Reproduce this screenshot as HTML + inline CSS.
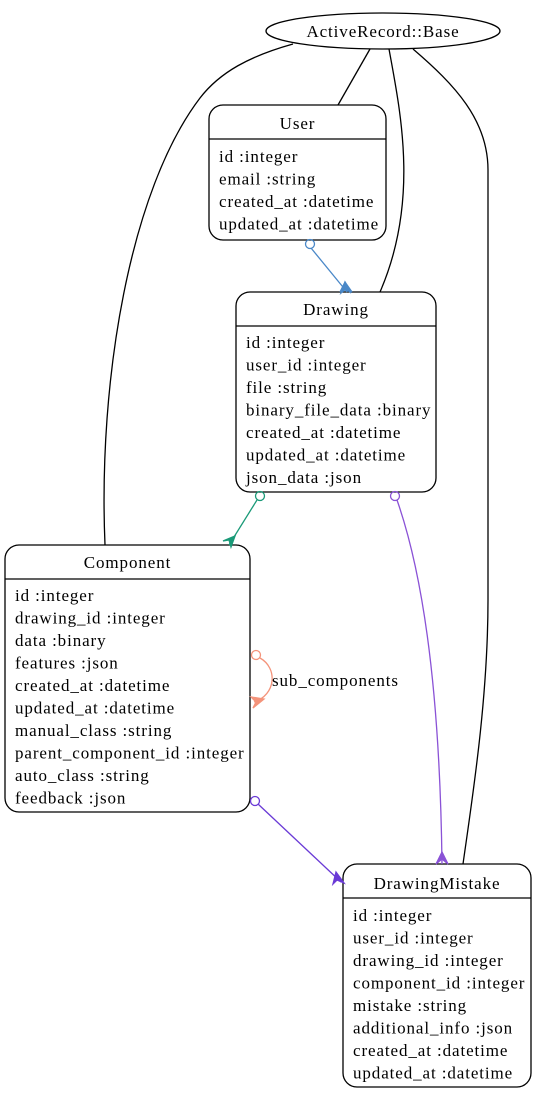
<!DOCTYPE html>
<html><head><meta charset="utf-8"><style>
html,body{margin:0;padding:0;background:#fff;}
svg{display:block;}
text{font-family:"Liberation Serif",serif;font-size:17px;letter-spacing:0.9px;fill:#000;}
</style></head><body>
<svg width="544" height="1102" viewBox="0 0 544 1102" xmlns="http://www.w3.org/2000/svg">
<g fill="none" stroke="#000" stroke-width="1.3">
<ellipse cx="383" cy="31" rx="117" ry="18" fill="#fff"/>
<path d="M370,49 L338,105"/>
<path d="M389,49 C400,110 420,200 380,292"/>
<path d="M293,44 C250,56 220,72 200,98 C130,190 98,380 105,545"/>
<path d="M413,49 C455,85 488,120 488,170 L488,600 C488,700 472,800 463,864"/>
<rect x="209" y="105" width="177" height="135" rx="14"/>
<line x1="209" y1="139" x2="386" y2="139"/>
<rect x="236" y="292" width="200" height="200" rx="14"/>
<line x1="236" y1="326" x2="436" y2="326"/>
<rect x="5" y="545" width="245" height="267" rx="14"/>
<line x1="5" y1="579" x2="250" y2="579"/>
<rect x="343" y="864" width="188" height="223" rx="14"/>
<line x1="343" y1="898" x2="531" y2="898"/>
</g>
<g stroke="#4a88c8" fill="none" stroke-width="1.3">
<circle cx="310" cy="244" r="4.5"/>
<path d="M311,248 L347,292"/>
<path d="M340,292 L345,282 L352,292 M347,292 L345,282"/>
<polygon points="345,282 341,293 346,289 351,293" fill="#4a88c8"/>
</g>
<g stroke="#1a9a78" fill="none" stroke-width="1.3">
<circle cx="260" cy="496" r="4.5"/>
<path d="M257,500 L229,545"/>
<polygon points="235,536 223,541 229,540 231,547" fill="#1a9a78"/>
</g>
<g stroke="#8a52d6" fill="none" stroke-width="1.3">
<circle cx="395" cy="496" r="4.5"/>
<path d="M397,500 C425,580 440,700 442,864"/>
<polygon points="442,852 436,864 442,859 448,864" fill="#8a52d6"/>
</g>
<g stroke="#6a3ad6" fill="none" stroke-width="1.3">
<circle cx="255" cy="801" r="4.5"/>
<path d="M258,804 L341,882"/>
<polygon points="336,872 333,884 337,880 344,883" fill="#6a3ad6"/>
</g>
<g stroke="#f4937a" fill="none" stroke-width="1.3">
<circle cx="256" cy="655" r="4.5"/>
<path d="M260,658 C278,668 276,695 254,702"/>
<polygon points="264,699 251,697 256,702 253,708" fill="#f4937a"/>
</g>
<text x="272" y="686">sub_components</text>
<text x="383" y="37" text-anchor="middle">ActiveRecord::Base</text>
<text x="297.5" y="129" text-anchor="middle">User</text>
<text x="219" y="162">id :integer</text>
<text x="219" y="184.5">email :string</text>
<text x="219" y="207">created_at :datetime</text>
<text x="219" y="229.5">updated_at :datetime</text>
<text x="336" y="315" text-anchor="middle">Drawing</text>
<text x="246" y="348">id :integer</text>
<text x="246" y="370.5">user_id :integer</text>
<text x="246" y="393">file :string</text>
<text x="246" y="415.5">binary_file_data :binary</text>
<text x="246" y="438">created_at :datetime</text>
<text x="246" y="460.5">updated_at :datetime</text>
<text x="246" y="483">json_data :json</text>
<text x="127.5" y="568" text-anchor="middle">Component</text>
<text x="15" y="601">id :integer</text>
<text x="15" y="623.5">drawing_id :integer</text>
<text x="15" y="646">data :binary</text>
<text x="15" y="668.5">features :json</text>
<text x="15" y="691">created_at :datetime</text>
<text x="15" y="713.5">updated_at :datetime</text>
<text x="15" y="736">manual_class :string</text>
<text x="15" y="758.5">parent_component_id :integer</text>
<text x="15" y="781">auto_class :string</text>
<text x="15" y="803.5">feedback :json</text>
<text x="437" y="889" text-anchor="middle">DrawingMistake</text>
<text x="353" y="921">id :integer</text>
<text x="353" y="943.5">user_id :integer</text>
<text x="353" y="966">drawing_id :integer</text>
<text x="353" y="988.5">component_id :integer</text>
<text x="353" y="1011">mistake :string</text>
<text x="353" y="1033.5">additional_info :json</text>
<text x="353" y="1056">created_at :datetime</text>
<text x="353" y="1078.5">updated_at :datetime</text>
</svg>
</body></html>
